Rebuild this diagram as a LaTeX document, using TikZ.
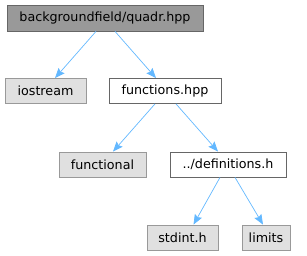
\documentclass[tikz,border=0pt]{standalone}
\usepackage{fontspec}
\setmainfont{DejaVu Sans}
\usetikzlibrary{arrows.meta, positioning, calc}
\definecolor{incedge}{HTML}{63B8FF}
\definecolor{rootfill}{HTML}{999999}
\definecolor{rootborder}{HTML}{666666}
\definecolor{sysfill}{HTML}{E0E0E0}
\definecolor{sysborder}{HTML}{999999}
\begin{document}
\begin{tikzpicture}[x=1pt, y=-1pt, >={Stealth[length=10pt,width=8pt,inset=1.5pt]},
    filebox/.style={draw, line width=0.8pt, minimum height=25pt, inner sep=0pt,
      font=\fontsize{12.7}{15}\selectfont},
    rootbox/.style={filebox, fill=rootfill, draw=rootborder},
    localbox/.style={filebox, fill=white, draw=rootborder},
    sysbox/.style={filebox, fill=sysfill, draw=sysborder},
    incl/.style={->, incedge, line width=0.7pt}]
        \useasboundingbox (0,0) rectangle (307,256);
        \node[rootbox, minimum width=196pt, minimum height=26pt] (quadr) at (105,18) {backgroundfield/quadr.hpp};
        \node[sysbox, minimum width=81pt] (iostream) at (45.5,91) {iostream};
        \node[localbox, minimum width=112pt] (functions) at (165,91) {functions.hpp};
        \node[sysbox, minimum width=87pt] (functional) at (102.5,164.5) {functional};
        \node[localbox, minimum width=116pt] (defs) at (228,164.5) {../definitions.h};
        \node[sysbox, minimum width=71pt] (stdint) at (182.5,237.5) {stdint.h};
        \node[sysbox, minimum width=48pt] (limits) at (266,237.5) {limits};
        \draw[incl] ([xshift=-9pt]quadr.south) -- ([xshift=9.5pt]iostream.north);
        \draw[incl] ([xshift=10pt]quadr.south) -- ([xshift=-9pt]functions.north);
        \draw[incl] ([xshift=-10pt]functions.south) -- ([xshift=10.5pt]functional.north);
        \draw[incl] ([xshift=11pt]functions.south) -- ([xshift=-10pt]defs.north);
        \draw[incl] ([xshift=-8pt]defs.south) -- ([xshift=11pt]stdint.north);
        \draw[incl] ([xshift=7pt]defs.south) -- ([xshift=-3pt]limits.north);
      \end{tikzpicture}
\end{document}
